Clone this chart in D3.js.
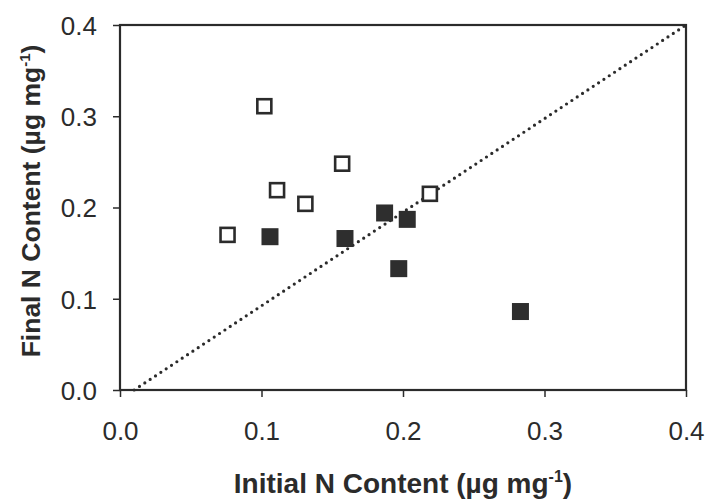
<!DOCTYPE html>
<html>
<head>
<meta charset="utf-8">
<script src="https://cdn.jsdelivr.net/npm/d3@7"></script>
<style>
  body { margin: 0; background: #fff; }
  svg { display: block; }
  .tick text { font-family: "Liberation Sans", Arial, sans-serif; font-size: 26px; fill: #2b2b2b; }
  .axis-title { font-family: "Liberation Sans", Arial, sans-serif; font-weight: bold; fill: #2b2b2b; }
</style>
</head>
<body>
<div id="chart"></div>
<script>
// open squares
const openX = [0.102, 0.157, 0.111, 0.131, 0.076, 0.219];
const openY = [0.311, 0.248, 0.219, 0.204, 0.170, 0.215];
// filled squares
const filledX = [0.106, 0.159, 0.187, 0.203, 0.197, 0.283];
const filledY = [0.168, 0.166, 0.194, 0.187, 0.133, 0.086];
// dotted reference line
const lineX = [0.01, 0.4];
const lineY = [0.0, 0.4];
const xTicks = [0, 0.1, 0.2, 0.3, 0.4];
const yTicks = [0, 0.1, 0.2, 0.3, 0.4];

const width = 707, height = 502;
const margin = {top: 25, right: 21, bottom: 112, left: 120};

const svg = d3.select("#chart").append("svg")
    .attr("width", width)
    .attr("height", height);

const x = d3.scaleLinear().domain([0, 0.4]).range([margin.left, width - margin.right]);
const y = d3.scaleLinear().domain([0, 0.4]).range([height - margin.bottom, margin.top]);

const ink = "#2b2b2b";

// axes
const xAxis = svg.append("g")
    .attr("transform", `translate(0,${y(0)})`)
    .call(d3.axisBottom(x).tickValues(xTicks).tickFormat(d3.format(".1f")).tickSize(7).tickSizeOuter(0).tickPadding(25));
const yAxis = svg.append("g")
    .attr("transform", `translate(${x(0)},0)`)
    .call(d3.axisLeft(y).tickValues(yTicks).tickFormat(d3.format(".1f")).tickSize(7).tickSizeOuter(0).tickPadding(16));
[xAxis, yAxis].forEach(g => {
  g.select(".domain").remove();
  g.selectAll(".tick line").attr("stroke", ink).attr("stroke-width", 1.5);
});
yAxis.selectAll(".tick text").attr("dy", "0.36em");

// plot frame
svg.append("rect")
    .attr("x", x(0)).attr("y", y(0.4))
    .attr("width", x(0.4) - x(0)).attr("height", y(0) - y(0.4))
    .attr("fill", "none").attr("stroke", ink).attr("stroke-width", 2.2);

// dotted line
svg.append("line")
    .attr("x1", x(lineX[0])).attr("y1", y(lineY[0]))
    .attr("x2", x(lineX[1])).attr("y2", y(lineY[1]))
    .attr("stroke", ink).attr("stroke-width", 3.2)
    .attr("stroke-linecap", "round")
    .attr("stroke-dasharray", "0 6.4");

// open squares
const os = 14;
svg.selectAll(".open").data(openX.map((d, i) => [d, openY[i]])).enter()
  .append("rect").attr("class", "open")
    .attr("x", d => x(d[0]) - os / 2).attr("y", d => y(d[1]) - os / 2)
    .attr("width", os).attr("height", os)
    .attr("fill", "#fff").attr("stroke", ink).attr("stroke-width", 2.6);

// filled squares
const fs = 17;
svg.selectAll(".filled").data(filledX.map((d, i) => [d, filledY[i]])).enter()
  .append("rect").attr("class", "filled")
    .attr("x", d => x(d[0]) - fs / 2).attr("y", d => y(d[1]) - fs / 2)
    .attr("width", fs).attr("height", fs)
    .attr("fill", "#2e2e2e");

// axis titles
const xt = svg.append("text").attr("class", "axis-title")
    .attr("font-size", 28)
    .attr("x", (x(0) + x(0.4)) / 2).attr("y", 493)
    .attr("text-anchor", "middle");
xt.append("tspan").text("Initial N Content (µg mg");
xt.append("tspan").attr("dy", -11).attr("font-size", 16).text("-1");
xt.append("tspan").attr("dy", 11).text(")");

const yt = svg.append("text").attr("class", "axis-title")
    .attr("font-size", 26.5)
    .attr("transform", `translate(40,201) rotate(-90)`)
    .attr("text-anchor", "middle");
yt.append("tspan").text("Final N Content (µg mg");
yt.append("tspan").attr("dy", -10).attr("font-size", 15).text("-1");
yt.append("tspan").attr("dy", 10).text(")");
</script>
</body>
</html>
